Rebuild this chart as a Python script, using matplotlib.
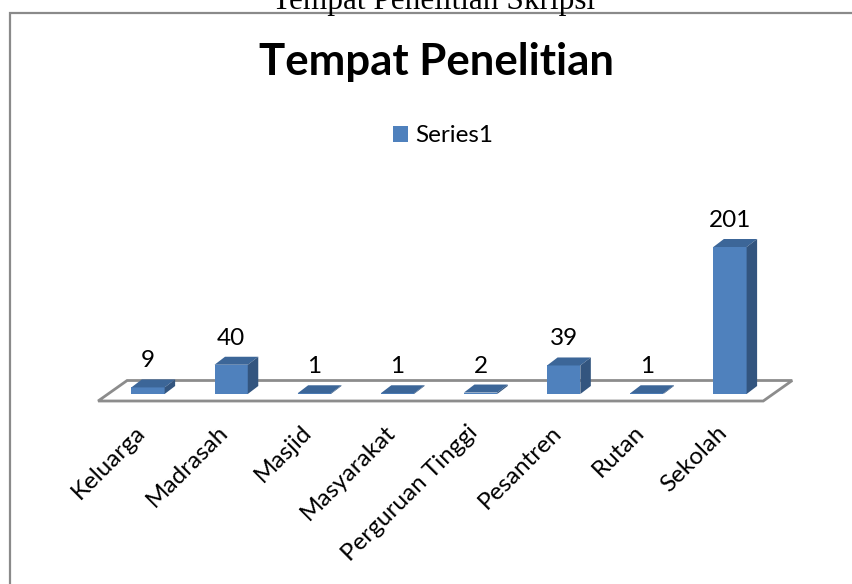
import matplotlib
matplotlib.use("Agg")
import matplotlib.pyplot as plt
from matplotlib.patches import Polygon, Rectangle

categories = ["Keluarga", "Madrasah", "Masjid", "Masyarakat", "Perguruan Tinggi",
              "Pesantren", "Rutan", "Sekolah"]
values = [9, 40, 1, 1, 2, 39, 1, 201]
series_name = "Series1"
title = "Tempat Penelitian"
caption = "Tempat Penelitian Skripsi"

W, H = 853, 584
fig = plt.figure(figsize=(W / 100, H / 100), dpi=100)

FONT = "Lato"

# --- pixel layout (image coords, y from top) ---
x0_px, step_px = 148.0, 83.14       # center of first bar, spacing
y0_px, ky = 394.0, 147.0 / 201.0    # baseline pixel, px per unit
xlim = (-0.6, 7.6)
ylim = (-20, 260)
left_px = x0_px + xlim[0] * step_px
right_px = x0_px + xlim[1] * step_px
bot_px = y0_px - ylim[0] * ky   # image y of bottom
top_px = y0_px - ylim[1] * ky
ax = fig.add_axes([left_px / W, (H - bot_px) / H,
                   (right_px - left_px) / W, (bot_px - top_px) / H])
ax.set_xlim(*xlim)
ax.set_ylim(*ylim)
ax.axis("off")

# depth offsets (in data units)
ddx = 10.5 / step_px
ddy = 8.0 / ky

front_c = "#4F81BD"
top_c = "#3C6698"
side_c = "#33557F"

# floor
f_front = -7.0 / ky
f_back = 13.5 / ky
f_dx = 29.0 / step_px
floor = Polygon([(-0.6, f_front), (7.4, f_front), (7.4 + f_dx, f_back), (-0.6 + f_dx, f_back)],
                closed=True, facecolor="white", edgecolor="#8C8C8C", lw=2.0, zorder=1,
                clip_on=False)
ax.add_patch(floor)

bw = 0.40
xs = list(range(len(categories)))
ax.bar(xs, values, width=bw, color=front_c, zorder=3, label=series_name, linewidth=0)
for x, v in zip(xs, values):
    l, r = x - bw / 2, x + bw / 2
    ax.add_patch(Polygon([(l, v), (r, v), (r + ddx, v + ddy), (l + ddx, v + ddy)],
                         closed=True, facecolor=top_c, edgecolor="none", zorder=3))
    ax.add_patch(Polygon([(r, 0), (r, v), (r + ddx, v + ddy), (r + ddx, ddy)],
                         closed=True, facecolor=side_c, edgecolor="none", zorder=3))
    ax.annotate(str(v), (x, v + ddy), xytext=(0, 12), textcoords="offset pixels",
                ha="center", va="baseline", fontsize=17.5, family=FONT, color="black")
    ax.annotate(categories[x], (x, f_front), xytext=(-6, -28), textcoords="offset pixels",
                ha="right", va="center", rotation=45, rotation_mode="anchor",
                fontsize=17.5, family=FONT, color="black", annotation_clip=False)

# legend
leg = fig.legend(loc="center", bbox_to_anchor=(443 / W, (H - 136) / H), frameon=False,
                 prop={"family": FONT, "size": 17.5}, handlelength=0.6, handleheight=0.6,
                 handletextpad=0.3, borderpad=0)

# title
fig.text(437 / W, (H - 75) / H, title, ha="center", va="baseline",
         fontsize=31.5, fontweight="bold", family=FONT)

# caption (cut off at top, as in the source)
fig.text(434 / W, (H - 9) / H, caption, ha="center", va="baseline",
         fontsize=22.5, family="Liberation Serif")

# chart border
fig.add_artist(Rectangle((10 / W, -0.1), 1.2, (H - 12.7) / H + 0.1, transform=fig.transFigure,
                         fill=False, edgecolor="#8A8A8A", lw=1.6))

fig.savefig("out.png", dpi=100)
